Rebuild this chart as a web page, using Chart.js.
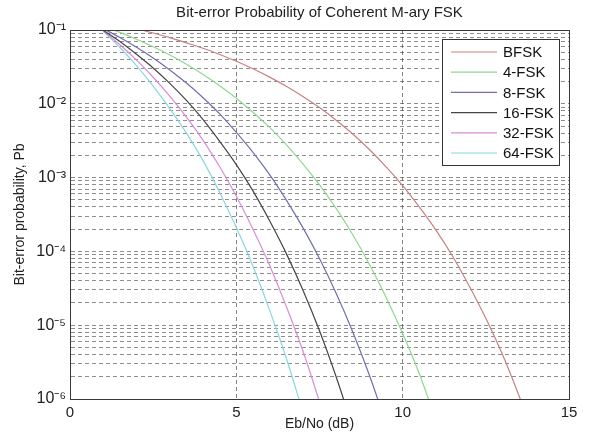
<!DOCTYPE html>
<html>
<head>
<meta charset="utf-8">
<title>Bit-error Probability of Coherent M-ary FSK</title>
<script src="https://cdn.jsdelivr.net/npm/chart.js@4.4.0/dist/chart.umd.min.js"></script>
<style>
    html, body { margin: 0; padding: 0; background: #fff; }
    #wrap { position: relative; width: 590px; height: 441px; }
</style>
</head>
<body>
<div id="wrap"><canvas id="fskChart" width="590" height="441"></canvas></div>
<script>
// Eb/No steps (dB)
const ebNo = [1, 1.5, 2, 2.5, 3, 3.5, 4, 4.5, 5, 5.5, 6, 6.5, 7, 7.5, 8, 8.5, 9, 9.5,
    10, 10.5, 11, 11.5, 12, 12.5, 13, 13.5, 14];

// Bit-error probability per curve
const bfsk = [0.131, 0.117, 0.104, 0.091, 0.079, 0.067, 0.0565, 0.0466, 0.0377, 0.0298,
    0.023, 0.0173, 0.0126, 0.0089, 0.006, 0.0039, 0.0024, 0.0014, 7.8e-4, 4.0e-4,
    1.94e-4, 8.6e-5, 3.4e-5, 1.24e-5, 4.0e-6, 1.1e-6, 2.7e-7];
const fsk4 = [0.113, 0.0928, 0.075, 0.0593, 0.0458, 0.0343, 0.025, 0.0176, 0.0119, 0.0077,
    0.0048, 0.0028, 1.54e-3, 7.96e-4, 3.82e-4, 1.68e-4, 6.7e-5, 2.4e-5, 7.7e-6, 2.2e-6, 5.2e-7];
const fsk8 = [0.104, 0.079, 0.0584, 0.0418, 0.0288, 0.0191, 0.0121, 0.0073, 0.0041, 0.0022,
    0.0011, 5.0e-4, 2.1e-4, 8.0e-5, 2.7e-5, 8.1e-6, 2.1e-6, 4.7e-7];
const fsk16 = [0.099, 0.07, 0.047, 0.0306, 0.0189, 0.0111, 0.0061, 0.0031, 0.0015, 6.6e-4,
    2.6e-4, 9.4e-5, 3.0e-5, 8.4e-6, 2.0e-6, 4.1e-7];
const fsk32 = [0.097, 0.063, 0.039, 0.0229, 0.0127, 0.0066, 0.0032, 0.0014, 5.6e-4, 2.0e-4,
    6.5e-5, 1.8e-5, 4.5e-6, 9.1e-7, 1.6e-7];
const fsk64 = [0.096, 0.058, 0.033, 0.0174, 0.0086, 0.004, 0.0017, 6.3e-4, 2.1e-4, 6.3e-5,
    1.6e-5, 3.6e-6, 6.7e-7];

const seriesNames = ['BFSK', '4-FSK', '8-FSK', '16-FSK', '32-FSK', '64-FSK'];
const seriesValues = [bfsk, fsk4, fsk8, fsk16, fsk32, fsk64];
const seriesColors = ['#c98082', '#8ed88e', '#6f6fb0', '#454545', '#d98bd9', '#86d8e2'];

// Axis ticks
const xTicks = [0, 5, 10, 15];
const yDecades = [1e-6, 1e-5, 1e-4, 1e-3, 1e-2, 1e-1];
const yDecadeLabels = ['10\u207B\u2076', '10\u207B\u2075', '10\u207B\u2074', '10\u207B\u00B3', '10\u207B\u00B2', '10\u207B\u00B9'];
const yMinorSteps = [2, 3, 4, 5, 6, 7, 8, 9];

const chartTitle = 'Bit-error Probability of Coherent M-ary FSK';
const FONT = "'Liberation Sans', Arial, sans-serif";

function buildYTicks() {
    const ticks = [];
    yDecades.forEach(function (d, i) {
        ticks.push({ value: d });
        if (i < yDecades.length - 1) {
            yMinorSteps.forEach(function (m) { ticks.push({ value: d * m }); });
        }
    });
    return ticks;
}

// Box around the axes and the title centred over it, MATLAB style
const framePlugin = {
    id: 'frame',
    afterDatasetsDraw(chart) {
        const a = chart.chartArea;
        const ctx = chart.ctx;
        ctx.save();
        ctx.strokeStyle = '#3a3a3a';
        ctx.lineWidth = 1;
        ctx.strokeRect(Math.round(a.left) + 0.5, Math.round(a.top) + 0.5,
            Math.round(a.right - a.left), Math.round(a.bottom - a.top));
        ctx.fillStyle = '#222';
        ctx.font = '15px ' + FONT;
        ctx.textAlign = 'center';
        ctx.textBaseline = 'middle';
        ctx.fillText(chartTitle, (a.left + a.right) / 2, 13);
        ctx.restore();
    }
};

// Legend box in the upper right corner of the plot
const boxLegendPlugin = {
    id: 'boxLegend',
    afterDraw(chart) {
        const ctx = chart.ctx;
        const a = chart.chartArea;
        const boxW = 117, boxH = 126;
        const x0 = Math.round(a.right) - 10 - boxW;
        const y0 = Math.round(a.top) + 9;
        ctx.save();
        ctx.fillStyle = '#fff';
        ctx.fillRect(x0, y0, boxW, boxH);
        ctx.strokeStyle = '#333';
        ctx.lineWidth = 1;
        ctx.strokeRect(x0 + 0.5, y0 + 0.5, boxW, boxH);
        ctx.font = '15px ' + FONT;
        ctx.textBaseline = 'middle';
        ctx.fillStyle = '#111';
        chart.data.datasets.forEach(function (ds, i) {
            const y = y0 + 13 + i * 20.2;
            ctx.strokeStyle = ds.borderColor;
            ctx.lineWidth = 1.2;
            ctx.beginPath();
            ctx.moveTo(x0 + 9, y);
            ctx.lineTo(x0 + 55, y);
            ctx.stroke();
            ctx.fillText(ds.label, x0 + 61, y + 1);
        });
        ctx.restore();
    }
};

function initFskChart() {
    const ctx = document.getElementById('fskChart');
    if (!ctx) return;

    const datasets = seriesNames.map(function (name, i) {
        return {
            label: name,
            data: seriesValues[i].map(function (v, j) { return { x: ebNo[j], y: v }; }),
            borderColor: seriesColors[i],
            backgroundColor: seriesColors[i],
            borderWidth: 1.2,
            pointRadius: 0,
            cubicInterpolationMode: 'monotone',
            fill: false
        };
    });

    const config = {
        type: 'line',
        data: { datasets: datasets },
        options: {
            responsive: false,
            animation: false,
            layout: { padding: { left: 0, right: 21, top: 30, bottom: 0 } },
            plugins: {
                legend: { display: false },
                tooltip: { enabled: false },
                title: { display: false }
            },
            scales: {
                x: {
                    type: 'linear',
                    min: 0,
                    max: 15,
                    afterBuildTicks: function (scale) {
                        scale.ticks = xTicks.map(function (v) { return { value: v }; });
                    },
                    afterFit: function (scale) { scale.height = 42; },
                    grid: { color: 'rgba(50,50,50,0.6)', lineWidth: 1, drawTicks: false },
                    border: { display: true, color: '#3a3a3a', width: 1, dash: [4, 3] },
                    ticks: {
                        color: '#222',
                        padding: 5,
                        maxRotation: 0,
                        font: { size: 15, family: FONT }
                    },
                    title: {
                        display: true,
                        text: 'Eb/No (dB)',
                        color: '#222',
                        font: { size: 14, family: FONT },
                        padding: { top: 0, bottom: 8 }
                    }
                },
                y: {
                    type: 'logarithmic',
                    min: 1e-6,
                    max: 1e-1,
                    afterBuildTicks: function (scale) {
                        scale.ticks = buildYTicks();
                    },
                    afterFit: function (scale) { scale.width = 70; },
                    grid: { color: 'rgba(50,50,50,0.55)', lineWidth: 1, drawTicks: false },
                    border: { display: true, color: '#3a3a3a', width: 1, dash: [4, 3] },
                    ticks: {
                        color: '#222',
                        padding: 4,
                        autoSkip: false,
                        font: { size: 16, family: FONT },
                        callback: function (value) {
                            const idx = yDecades.findIndex(function (d) {
                                return Math.abs(Math.log10(value) - Math.log10(d)) < 1e-6;
                            });
                            return idx >= 0 ? yDecadeLabels[idx] : '';
                        }
                    },
                    title: {
                        display: true,
                        text: 'Bit-error probability, Pb',
                        color: '#222',
                        font: { size: 14, family: FONT },
                        padding: { top: 12, bottom: 0 }
                    }
                }
            }
        },
        plugins: [framePlugin, boxLegendPlugin]
    };

    try {
        new Chart(ctx, config);
    } catch (error) {
        console.error('Failed to initialize FSK chart:', error);
    }
}

if (document.readyState === 'loading') {
    document.addEventListener('DOMContentLoaded', initFskChart);
} else {
    initFskChart();
}
</script>
</body>
</html>
